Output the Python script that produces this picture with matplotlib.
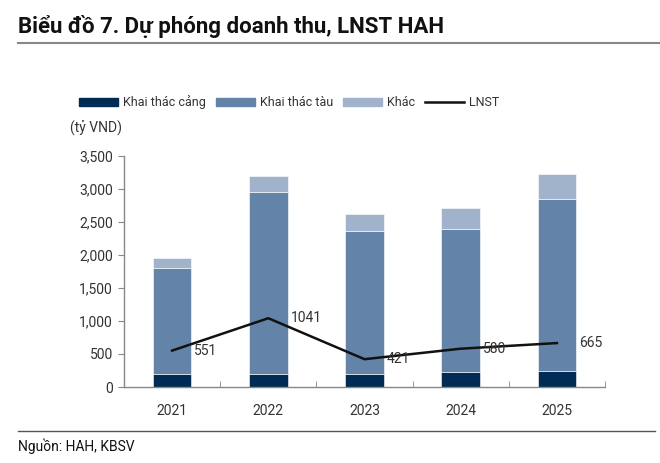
import matplotlib.pyplot as plt
import numpy as np
from matplotlib.lines import Line2D
from matplotlib.patches import Patch

plt.rcParams['font.family'] = ['Roboto', 'DejaVu Sans']

years = ['2021', '2022', '2023', '2024', '2025']
khai_thac_cang = [200, 200, 200, 220, 235]
khai_thac_tau = [1605, 2750, 2160, 2170, 2605]
khac = [145, 250, 260, 320, 380]
lnst = [551, 1041, 421, 580, 665]

c_cang = '#002b55'
c_tau = '#6383a8'
c_khac = '#a1b2cb'
c_text = '#333333'

fig = plt.figure(figsize=(6.6, 4.63), dpi=100)
ax = fig.add_axes([0.1879, 0.1641, 0.7288, 0.4996])

x = np.arange(len(years))
w = 0.40
cang = np.array(khai_thac_cang)
tau = np.array(khai_thac_tau)
ax.bar(x, cang, w, color=c_cang, edgecolor='white', linewidth=0.4)
ax.bar(x, tau, w, bottom=cang, color=c_tau, edgecolor='white', linewidth=0.4)
ax.bar(x, khac, w, bottom=cang + tau, color=c_khac, edgecolor='white', linewidth=0.4)
ax.plot(x, lnst, color='#111111', lw=1.8)

for xi, v in zip(x, lnst):
    ax.text(xi + 0.23, v, str(v), ha='left', va='center', fontsize=10, color=c_text)

ax.set_xlim(-0.5, 4.5)
ax.set_ylim(0, 3500)
ax.set_yticks(np.arange(0, 3501, 500))
ax.set_yticklabels([f'{v:,}' for v in range(0, 3501, 500)])
ax.set_xticks(x)
ax.set_xticklabels(years)
ax.set_xticks(np.arange(-0.5, 4.6, 1), minor=True)
ax.tick_params(axis='x', which='major', length=0, pad=12, labelsize=10, labelcolor=c_text)
ax.tick_params(axis='x', which='minor', direction='in', length=4, color='#888888')
ax.tick_params(axis='y', direction='out', length=4, color='#888888', labelsize=10,
               labelcolor=c_text, pad=4)
for s in ['top', 'right']:
    ax.spines[s].set_visible(False)
for s in ['left', 'bottom']:
    ax.spines[s].set_color('#888888')
    ax.spines[s].set_linewidth(1)

# title and frame lines
fig.text(0.027, 1 - 26 / 463, 'Biểu đồ 7. Dự phóng doanh thu, LNST HAH', fontsize=16,
         fontweight='bold', color='#111111', va='center', ha='left')
fig.add_artist(Line2D([0.027, 1.0], [1 - 43 / 463] * 2, color='#888888', lw=1.5))
fig.add_artist(Line2D([0.027, 0.992], [1 - 431 / 463] * 2, color='#555555', lw=1))
fig.text(0.027, 1 - 446 / 463, 'Nguồn: HAH, KBSV', fontsize=10, color='#111111',
         va='center', ha='left')
fig.text(0.106, 1 - 128 / 463, '(tỷ VND)', fontsize=10, color=c_text, va='center', ha='left')

handles = [Patch(color=c_cang), Patch(color=c_tau), Patch(color=c_khac),
           Line2D([], [], color='#111111', lw=1.8)]
labels = ['Khai thác cảng', 'Khai thác tàu', 'Khác', 'LNST']
fig.legend(handles, labels, loc='center', bbox_to_anchor=(0.438, 1 - 102 / 463), ncol=4,
           frameon=False, fontsize=9, handlelength=3.1, handleheight=0.6,
           handletextpad=0.4, columnspacing=0.8, labelcolor=c_text)

fig.savefig('out.png', dpi=100)
